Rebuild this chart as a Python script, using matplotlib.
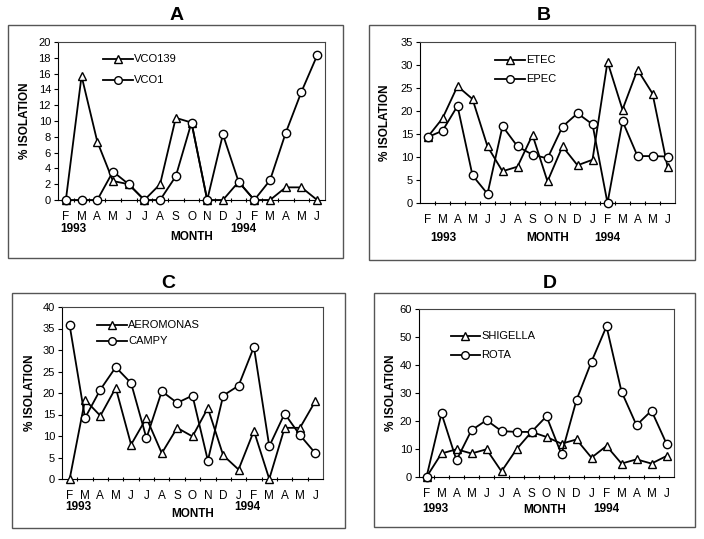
import matplotlib
matplotlib.use("Agg")
import matplotlib.pyplot as plt
from matplotlib.patches import Rectangle
from matplotlib import transforms

plt.rcParams['font.family'] = ['Liberation Sans', 'DejaVu Sans']

months = ["F", "M", "A", "M", "J", "J", "A", "S", "O", "N", "D", "J", "F", "M", "A", "M", "J"]

vco139 = [0, 15.7, 7.4, 2.4, 2.0, 0, 2.0, 10.4, 9.8, 0, 0, 2.3, 0, 0, 1.6, 1.6, 0]
vco1 = [0, 0, 0, 3.6, 2.0, 0, 0, 3.0, 9.8, 0, 8.3, 2.3, 0, 2.5, 8.5, 13.7, 18.3]

etec = [14.3, 18.4, 25.4, 22.6, 12.3, 6.9, 7.9, 14.8, 4.7, 12.3, 8.2, 9.4, 30.7, 20.3, 29.0, 23.8, 7.9]
epec = [14.3, 15.7, 21.1, 6.0, 2.0, 16.7, 12.3, 10.5, 9.7, 16.6, 19.5, 17.1, 0, 17.8, 10.2, 10.2, 10.1]

aeromonas = [0, 18.4, 14.7, 21.2, 8.0, 14.2, 6.0, 11.9, 9.9, 16.5, 5.5, 2.2, 11.2, 0, 11.9, 11.9, 18.1]
campy = [35.7, 14.2, 20.8, 26.0, 22.3, 9.5, 20.4, 17.7, 19.4, 4.3, 19.4, 21.7, 30.7, 7.6, 15.2, 10.2, 6.0]

shigella = [0, 8.4, 9.9, 8.4, 9.9, 2.0, 9.9, 16.1, 14.3, 11.9, 13.4, 6.9, 11.1, 4.8, 6.3, 4.8, 7.5]
rota = [0, 22.7, 6.0, 16.7, 20.3, 16.4, 16.1, 16.1, 21.7, 8.1, 27.5, 41.2, 53.8, 30.5, 18.5, 23.7, 11.9]

W, H = 704, 539
fig = plt.figure(figsize=(W / 100, H / 100), dpi=100)

panels = [
    dict(title="A", tpos=(177, 16), box=(8, 25, 343, 258), ax=(58, 42, 325, 200),
         s1=("VCO139", vco139), s2=("VCO1", vco1), ymax=20, ystep=2,
         leg=(0.169, 0.281, 0.892, 0.759), ylab_x=25,
         y1993=(0.45, 229), y1994=(11.3, 229), month=(8.0, 237)),
    dict(title="B", tpos=(544, 15), box=(369, 25, 695, 260), ax=(420, 42, 675, 203),
         s1=("ETEC", etec), s2=("EPEC", epec), ymax=35, ystep=5,
         leg=(0.294, 0.412, 0.888, 0.770), ylab_x=385,
         y1993=(1.04, 238), y1994=(12.0, 238), month=(8.04, 238)),
    dict(title="C", tpos=(168, 283), box=(12, 293, 345, 528), ax=(62, 307, 323, 479),
         s1=("AEROMONAS", aeromonas), s2=("CAMPY", campy), ymax=40, ystep=5,
         leg=(0.134, 0.249, 0.895, 0.802), ylab_x=30,
         y1993=(0.58, 507), y1994=(11.6, 507), month=(8.0, 514)),
    dict(title="D", tpos=(550, 284), box=(374, 293, 695, 527), ax=(419, 309, 674, 477),
         s1=("SHIGELLA", shigella), s2=("ROTA", rota), ymax=60, ystep=10,
         leg=(0.125, 0.239, 0.839, 0.726), ylab_x=391,
         y1993=(0.6, 509), y1994=(12.0, 509), month=(7.9, 510)),
]

def fx(px):
    return px / W

def fy(py):
    return 1 - py / H

x = list(range(len(months)))

for p in panels:
    bx0, by0, bx1, by1 = p["box"]
    fig.patches.append(Rectangle((fx(bx0), fy(by1)), fx(bx1 - bx0), (by1 - by0) / H,
                                 transform=fig.transFigure, fill=False,
                                 edgecolor="#555555", linewidth=1.0))
    fig.text(fx(p["tpos"][0]), fy(p["tpos"][1]), p["title"], ha="center", va="center",
             fontsize=14, fontweight="bold")

    ax0, ay0, ax1, ay1 = p["ax"]
    ax = fig.add_axes([fx(ax0), fy(ay1), fx(ax1 - ax0), (ay1 - ay0) / H])
    for sp in ax.spines.values():
        sp.set_linewidth(0.8)
    for sp in ("top", "right"):
        ax.spines[sp].set_color("#444444")

    (n1, d1), (n2, d2) = p["s1"], p["s2"]
    ax.plot(x, d1, color="black", lw=1.3, marker="^", ms=6, mfc="white", mec="black",
            mew=1.0, clip_on=False, zorder=3)
    ax.plot(x, d2, color="black", lw=1.3, marker="o", ms=6, mfc="white", mec="black",
            mew=1.0, clip_on=False, zorder=3)

    ax.set_xlim(-0.5, len(months) - 0.5)
    ax.set_ylim(0, p["ymax"])
    ax.set_yticks(list(range(0, p["ymax"] + 1, p["ystep"])))
    ax.tick_params(axis="y", labelsize=8, length=3, width=0.8, pad=2)
    ax.set_xticks(x)
    ax.set_xticklabels(months, fontsize=8.5)
    ax.tick_params(axis="x", which="major", length=0, pad=8)
    ax.set_xticks([i + 0.5 for i in x[:-1]], minor=True)
    ax.tick_params(axis="x", which="minor", length=3, width=0.8, direction="inout")

    # legend drawn manually
    lx0, lx1, ly1, ly2 = p["leg"]
    for (name, mk), ly in zip(((n1, "^"), (n2, "o")), (ly1, ly2)):
        ax.plot([lx0, (lx0 + lx1) / 2, lx1], [ly, ly, ly], transform=ax.transAxes,
                color="black", lw=1.3, marker=mk, ms=5.5, mfc="white", mec="black",
                mew=1.0, markevery=[1], clip_on=False)
        ax.text(lx1 + 0.005, ly, name, transform=ax.transAxes, ha="left", va="center",
                fontsize=8)

    # y label
    fig.text(fx(p["ylab_x"]), fy((ay0 + ay1) / 2), "% ISOLATION", rotation=90,
             ha="center", va="center", fontsize=8.5, fontweight="bold")

    tr = transforms.blended_transform_factory(ax.transData, fig.transFigure)
    ax.text(p["y1993"][0], fy(p["y1993"][1]), "1993", transform=tr, ha="center",
            va="center", fontsize=8.5, fontweight="bold")
    ax.text(p["y1994"][0], fy(p["y1994"][1]), "1994", transform=tr, ha="center",
            va="center", fontsize=8.5, fontweight="bold")
    ax.text(p["month"][0], fy(p["month"][1]), "MONTH", transform=tr, ha="center",
            va="center", fontsize=8.5, fontweight="bold")

fig.savefig("out.png", dpi=100)
